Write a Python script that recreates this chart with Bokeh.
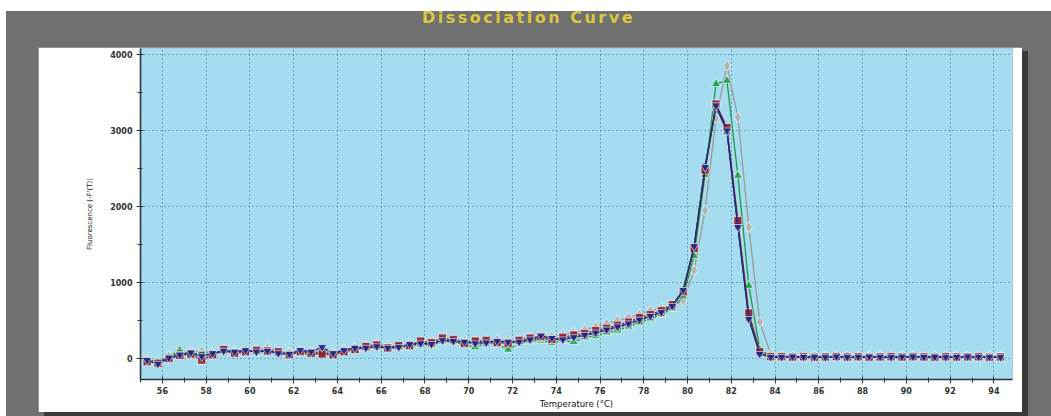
from bokeh.plotting import figure
from bokeh.models import Div, FixedTicker, Range1d
from bokeh.layouts import column
from bokeh.embed import file_html
from bokeh.resources import INLINE

# ---------------- data ----------------
temperature = [55.3, 55.8, 56.3, 56.8, 57.3, 57.8, 58.3, 58.8, 59.3, 59.8,
               60.3, 60.8, 61.3, 61.8, 62.3, 62.8, 63.3, 63.8, 64.3, 64.8,
               65.3, 65.8, 66.3, 66.8, 67.3, 67.8, 68.3, 68.8, 69.3, 69.8,
               70.3, 70.8, 71.3, 71.8, 72.3, 72.8, 73.3, 73.8, 74.3, 74.8,
               75.3, 75.8, 76.3, 76.8, 77.3, 77.8, 78.3, 78.8, 79.3, 79.8,
               80.3, 80.8, 81.3, 81.8, 82.3, 82.8, 83.3, 83.8, 84.3, 84.8,
               85.3, 85.8, 86.3, 86.8, 87.3, 87.8, 88.3, 88.8, 89.3, 89.8,
               90.3, 90.8, 91.3, 91.8, 92.3, 92.8, 93.3, 93.8, 94.3]

well_gray = [-20, -50, 40, 50, 90, 100, 70, 120, 100, 90,
             110, 150, 90, 80, 100, 90, 110, 70, 120, 140,
             170, 200, 170, 150, 190, 220, 230, 250, 260, 240,
             230, 230, 250, 240, 250, 270, 300, 290, 310, 340,
             380, 420, 460, 500, 540, 580, 630, 660, 700, 760,
             1160, 1950, 3160, 3855, 3175, 1730, 480, 60, 25, 30,
             28, 32, 26, 30, 28, 24, 30, 32, 28, 26,
             30, 28, 32, 26, 30, 28, 24, 30, 26]

well_teal = [-10, -40, 30, 80, 70, 60, 50, 100, 90, 100,
             100, 90, 80, 70, 100, 80, 80, 60, 110, 150,
             160, 170, 160, 170, 170, 210, 210, 250, 230, 220,
             230, 220, 220, 210, 220, 240, 260, 260, 260, 300,
             320, 350, 380, 420, 460, 510, 560, 600, 690, 910,
             1470, 2540, 3320, 3010, 1760, 540, 70, 22, 22, 20,
             26, 22, 20, 24, 22, 26, 20, 22, 24, 20,
             26, 22, 20, 24, 22, 20, 26, 22, 20]

well_green = [-30, -40, 30, 110, 50, 40, 70, 100, 70, 110,
              90, 120, 80, 70, 80, 40, 80, 40, 110, 130,
              140, 150, 130, 150, 160, 190, 170, 230, 220, 180,
              150, 200, 190, 120, 200, 230, 240, 210, 240, 220,
              280, 300, 340, 370, 420, 470, 520, 580, 660, 820,
              1350, 2420, 3614, 3658, 2408, 960, 120, 30, 30, 28,
              22, 30, 26, 24, 30, 22, 28, 26, 30, 24,
              22, 28, 30, 24, 26, 22, 28, 24, 20]

well_darkgreen = [-30, -60, 20, 70, 70, 50, 60, 100, 80, 90,
                  100, 110, 70, 60, 100, 60, 90, 50, 100, 120,
                  140, 160, 150, 160, 180, 200, 190, 240, 230, 210,
                  210, 210, 220, 210, 230, 250, 270, 250, 260, 290,
                  300, 340, 370, 410, 450, 500, 550, 600, 680, 890,
                  1460, 2500, 3310, 2990, 1740, 530, 70, 20, 20, 22,
                  18, 24, 20, 22, 18, 20, 24, 22, 20, 18,
                  22, 20, 24, 20, 18, 22, 20, 22, 24]

well_maroon = [-40, -60, 0, 40, 60, -20, 50, 120, 70, 90,
               110, 100, 90, 50, 90, 70, 60, 50, 90, 120,
               160, 180, 140, 170, 170, 230, 210, 270, 250, 200,
               230, 240, 210, 200, 240, 270, 290, 250, 280, 310,
               330, 370, 400, 440, 480, 540, 580, 630, 710, 880,
               1450, 2480, 3350, 3040, 1816, 600, 90, 25, 25, 20,
               24, 18, 22, 26, 20, 24, 18, 22, 25, 20,
               24, 22, 18, 24, 20, 22, 25, 18, 22]

well_navy = [-20, -70, 10, 50, 80, 30, 70, 100, 90, 110,
             90, 100, 70, 60, 110, 90, 150, 70, 110, 140,
             140, 160, 140, 150, 190, 200, 190, 240, 230, 220,
             200, 210, 230, 220, 220, 250, 300, 270, 250, 280,
             310, 340, 380, 420, 460, 510, 560, 610, 690, 900,
             1480, 2520, 3330, 3000, 1730, 520, 60, 20, 20, 25,
             20, 22, 18, 25, 20, 22, 25, 20, 18, 22,
             25, 20, 22, 18, 20, 25, 22, 20, 18]

x_major_ticks = [56, 58, 60, 62, 64, 66, 68, 70, 72, 74, 76, 78, 80, 82, 84, 86, 88, 90, 92, 94]
x_minor_ticks = [55, 57, 59, 61, 63, 65, 67, 69, 71, 73, 75, 77, 79, 81, 83, 85, 87, 89, 91, 93, 95]
y_major_ticks = [0, 1000, 2000, 3000, 4000]
y_minor_ticks = [500, 1500, 2500, 3500]

chart_title = "Dissociation Curve"
x_label = "Temperature (°C)"
y_label = "Fluorescence (-F'(T))"

# ---------------- figure ----------------
p = figure(width=984, height=365, output_backend="svg", toolbar_location=None,
           x_range=Range1d(55, 94.85), y_range=Range1d(-275, 4080),
           min_border_left=102, min_border_right=10, min_border_top=1, min_border_bottom=33)
p.background_fill_color = "#a6dcf0"
p.border_fill_color = "white"
p.outline_line_color = None

p.xaxis.ticker = FixedTicker(ticks=x_major_ticks, minor_ticks=x_minor_ticks)
p.yaxis.ticker = FixedTicker(ticks=y_major_ticks, minor_ticks=y_minor_ticks)

for ax in (p.xaxis, p.yaxis):
    ax.axis_line_color = "#2b3440"
    ax.axis_line_width = 1.6
    ax.major_tick_line_color = "#2b3440"
    ax.minor_tick_line_color = "#2b3440"
    ax.major_tick_in = 3
    ax.major_tick_out = 4
    ax.minor_tick_in = 2
    ax.minor_tick_out = 3
    ax.major_label_text_font = "DejaVu Sans"
    ax.major_label_text_font_size = "8px"
    ax.major_label_text_font_style = "bold"
    ax.major_label_text_color = "#333333"
    ax.axis_label_text_font = "DejaVu Sans"
    ax.axis_label_text_font_style = "normal"
    ax.axis_label_text_color = "#111111"

p.xaxis.axis_label = x_label
p.xaxis.axis_label_text_font_size = "8.5px"
p.xaxis.major_label_standoff = 3
p.xaxis.axis_label_standoff = 2
p.yaxis.axis_label = y_label
p.yaxis.axis_label_text_font_size = "7px"
p.yaxis.major_label_standoff = 4
p.yaxis.axis_label_standoff = 13

p.grid.grid_line_color = "#2f4f66"
p.grid.grid_line_dash = "1 3"
p.grid.grid_line_width = 1
p.grid.grid_line_alpha = 0.8

series = [
    (well_gray, "#b3b3b3", "#9a9a9a", "diamond", 11),
    (well_teal, "#2c8a86", "#2c8a86", "circle", 7),
    (well_green, "#1fa14a", "#1c9a44", "triangle", 9),
    (well_darkgreen, "#1e5e3a", "#1e5e3a", "square", 7),
    (well_maroon, "#8c1c2c", "#8c1c2c", "square", 8),
    (well_navy, "#1d2a86", "#1d2a86", "inverted_triangle", 9),
]
for vals, fill, line, marker, size in series:
    p.line(temperature, vals, line_color=line, line_width=1.3)
    p.scatter(temperature, vals, marker=marker, size=size, fill_color=fill,
              line_color="white", line_width=0.6, fill_alpha=0.9)

p.margin = (0, 29, 4, 32)
p.styles = {"box-shadow": "6px 4px 0px #3a3a3a"}

title_div = Div(text=chart_title, width=1045, height=36, margin=(0, 0, 0, 0),
                styles={"color": "#dcc83c", "font-family": "DejaVu Sans", "font-size": "16px",
                        "font-weight": "bold", "letter-spacing": "2.5px",
                        "text-align": "center", "line-height": "14px"})

layout = column(title_div, p, spacing=0, margin=(11, 0, 0, 6),
                styles={"background-color": "#707070"})

open("out.html", "w").write(file_html(layout, INLINE))
